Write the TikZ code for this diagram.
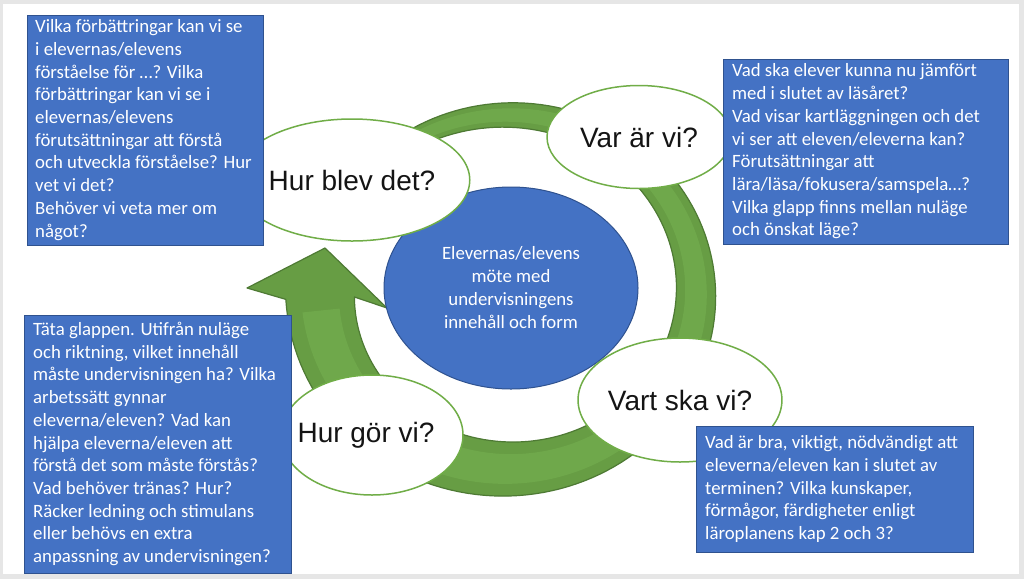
\documentclass[tikz,border=0pt]{standalone}
\usepackage{fontspec}
\setmainfont{Carlito}
\newfontfamily\arialf{Liberation Sans}
\usetikzlibrary{shapes.geometric}
\definecolor{bgray}{HTML}{E6E6E6}
\definecolor{boxblue}{HTML}{4472C4}
\definecolor{boxedge}{HTML}{2F528F}
\definecolor{ringgreen}{HTML}{679D44}
\definecolor{ringlight}{HTML}{6FA84B}
\definecolor{ringedge}{HTML}{4E7A34}
\definecolor{ellgreen}{HTML}{70AD47}
\definecolor{titletext}{HTML}{141414}
\begin{document}
\begin{tikzpicture}[x=1pt,y=-1pt,
  bluebox/.style={draw=boxedge, line width=1pt, fill=boxblue, inner sep=0pt, outer sep=0pt, anchor=north west},
  boxtext/.style={text=white, align=left, inner sep=0pt, anchor=west, font=\fontsize{18.8}{22.7}\selectfont},
  titleell/.style={ellipse, draw=ellgreen, line width=1.5pt, fill=white, inner sep=0pt, text=titletext, font=\arialf\fontsize{28}{32}\selectfont},
  centerell/.style={ellipse, draw=boxedge, line width=1pt, fill=boxblue, inner sep=0pt, text=white, align=center, font=\fontsize{18.8}{23}\selectfont},
  ring/.style={fill=ringgreen, draw=ringedge, line width=1.2pt, line join=round},
  ringhl/.style={fill=ringlight},
  declare function={hw(\t)=(12+0.165*(\t-195))/2;}
]
\useasboundingbox (0,0) rectangle (1024,579);
\fill[bgray] (0,0) rectangle (1024,579);
\fill[white] (3,4) rectangle (1019,574);

% circular arrow
\def\cx{508}\def\cy{292}\def\rx{188}\def\ry{177}
\path[ring] plot[domain=200:538,samples=150] ({\cx+(\rx+hw(\x))*cos(\x)},{\cy+(\ry+hw(\x))*sin(\x)})
  -- (247,288) -- (325,248) -- (387,308)
  -- plot[domain=538:200,samples=150] ({\cx+(\rx-hw(\x))*cos(\x)},{\cy+(\ry-hw(\x))*sin(\x)}) -- cycle;
% lighter middle band (shading of the arrow)
\path[ringhl] plot[domain=205:534,samples=150] ({\cx+(\rx+0.55*hw(\x))*cos(\x)},{\cy+(\ry+0.55*hw(\x))*sin(\x)})
  -- plot[domain=534:205,samples=150] ({\cx+(\rx-0.55*hw(\x))*cos(\x)},{\cy+(\ry-0.55*hw(\x))*sin(\x)}) -- cycle;

% centre ellipse
\node[centerell, minimum width=254, minimum height=202] (mid) at (511,288)
  {Elevernas/elevens\\möte med\\undervisningens\\innehåll och form};

% stage ellipses
\node[titleell, minimum width=180, minimum height=122] (hurblev) at (352,180) {Hur blev det?};
\node[titleell, minimum width=184, minimum height=103] (var) at (639,137) {Var är vi?};
\node[titleell, minimum width=196, minimum height=124] (vart) at (680,400) {Vart ska vi?};
\node[titleell, minimum width=182, minimum height=120] (hurgor) at (372,435) {\hspace*{-12pt}Hur gör vi?};

% text boxes
\node[bluebox, minimum width=236, minimum height=230] (b1) at (27,15) {};
\node[boxtext] (t1) at ([xshift=8pt]b1.west) {Vilka förbättringar kan vi se\\i elevernas/elevens\\förståelse för …? Vilka\\förbättringar kan vi se i\\elevernas/elevens\\förutsättningar att förstå\\och utveckla förståelse? Hur\\vet vi det?\\Behöver vi veta mer om\\något?};

\node[bluebox, minimum width=285, minimum height=185] (b2) at (723,59) {};
\node[boxtext] (t2) at ([xshift=9pt]b2.west) {Vad ska elever kunna nu jämfört\\med i slutet av läsåret?\\Vad visar kartläggningen och det\\vi ser att eleven/eleverna kan?\\Förutsättningar att\\lära/läsa/fokusera/samspela…?\\Vilka glapp finns mellan nuläge\\och önskat läge?};

\node[bluebox, minimum width=267, minimum height=258] (b3) at (24,315) {};
\node[boxtext] (t3) at ([xshift=9pt]b3.west) {Täta glappen. Utifrån nuläge\\och riktning, vilket innehåll\\måste undervisningen ha? Vilka\\arbetssätt gynnar\\eleverna/eleven? Vad kan\\hjälpa eleverna/eleven att\\förstå det som måste förstås?\\Vad behöver tränas? Hur?\\Räcker ledning och stimulans\\eller behövs en extra\\anpassning av undervisningen?};

\node[bluebox, minimum width=277, minimum height=126] (b4) at (696,426) {};
\node[boxtext] (t4) at ([xshift=9pt]b4.west) {Vad är bra, viktigt, nödvändigt att\\eleverna/eleven kan i slutet av\\terminen? Vilka kunskaper,\\förmågor, färdigheter enligt\\läroplanens kap 2 och 3?};
\end{tikzpicture}
\end{document}
